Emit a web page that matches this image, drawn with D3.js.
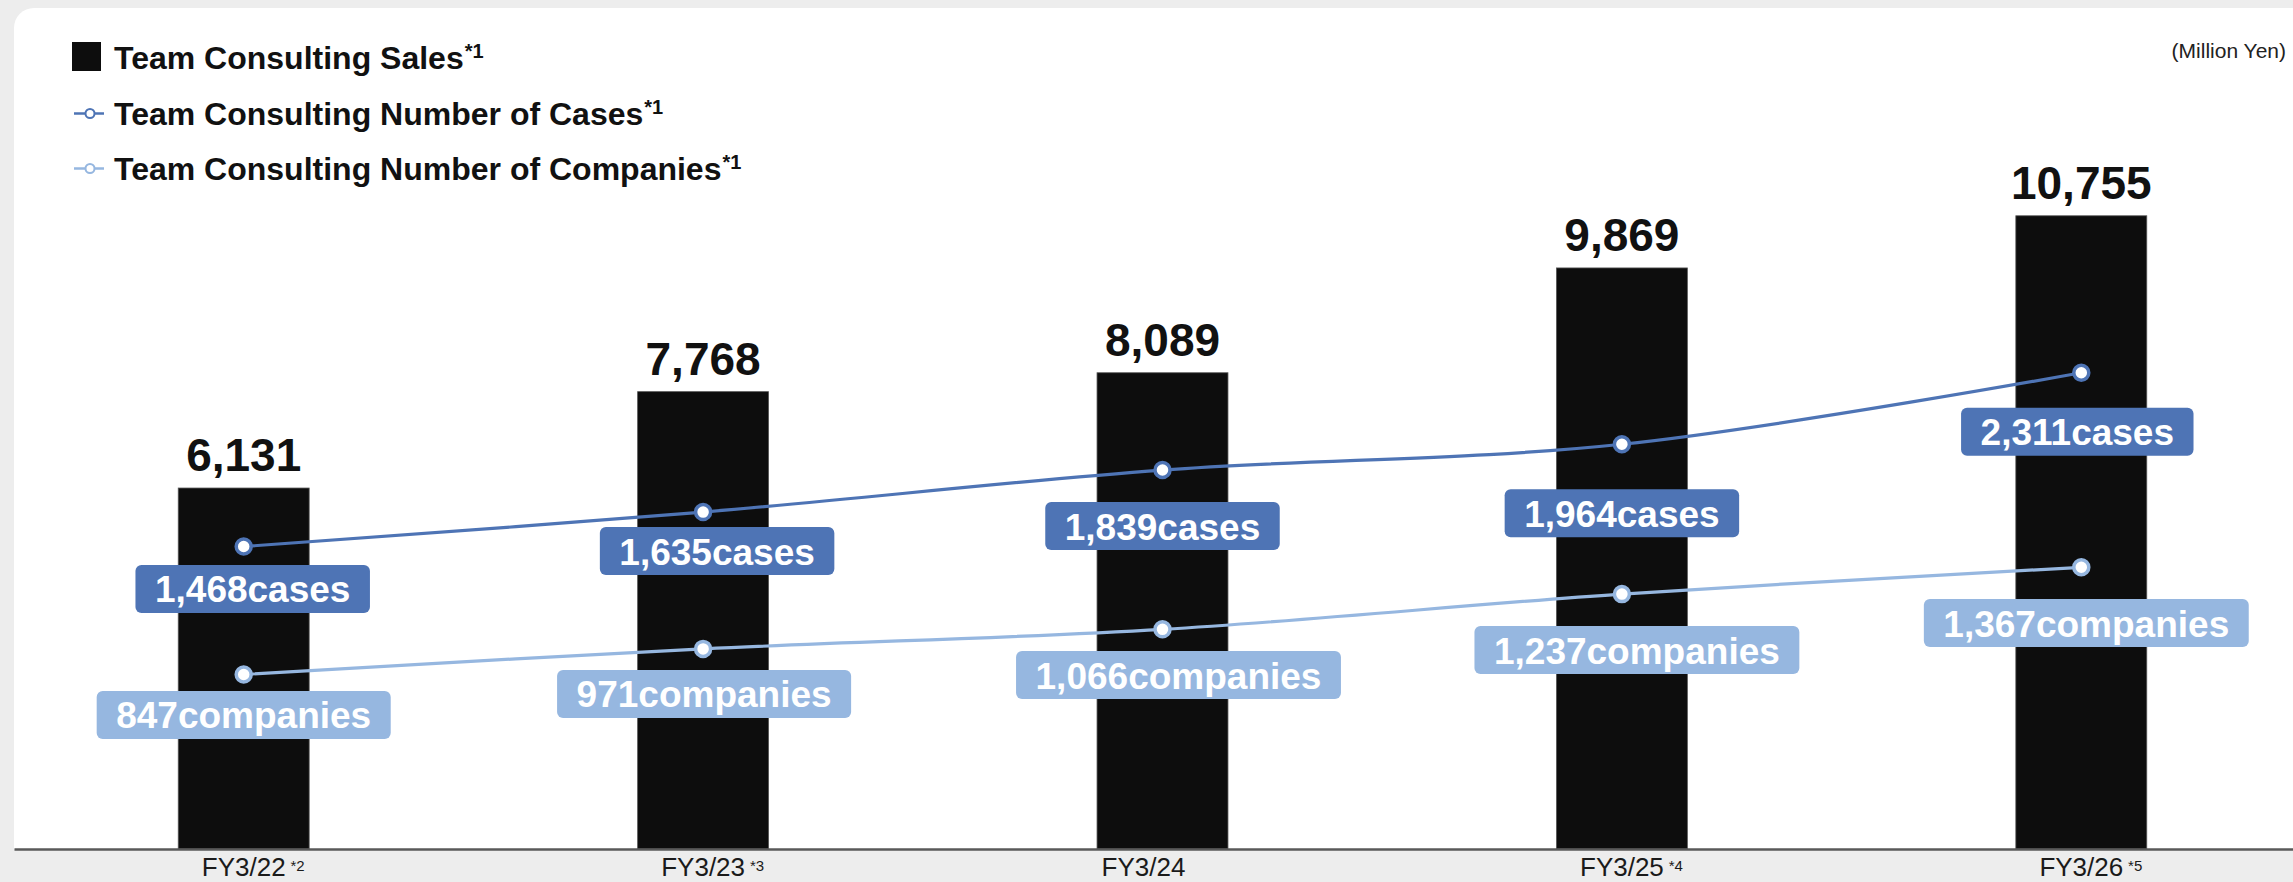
<!DOCTYPE html>
<html>
<head>
<meta charset="utf-8">
<script src="https://cdn.jsdelivr.net/npm/d3@7"></script>
<style>
  html, body { margin: 0; padding: 0; background: #ededed; }
  svg { display: block; font-family: "Liberation Sans", Arial, Helvetica, sans-serif; }
</style>
</head>
<body>
<script>
// Fiscal years and their footnote markers
const categories = ["FY3/22", "FY3/23", "FY3/24", "FY3/25", "FY3/26"];
const categoryNotes = ["*2", "*3", "", "*4", "*5"];

// Team consulting sales (million yen)
const sales = [6131, 7768, 8089, 9869, 10755];
// Team consulting number of cases
const cases = [1468, 1635, 1839, 1964, 2311];
// Team consulting number of companies
const companies = [847, 971, 1066, 1237, 1367];

// Legend entries
const legendLabels = [
  "Team Consulting Sales",
  "Team Consulting Number of Cases",
  "Team Consulting Number of Companies"
];

// Layout: badge offsets [dx of centre, dy of top] from each point
const caseTagShift = [[9, 18.5], [14, 15], [0, 32], [0, 45], [-4, 35]];
const companyTagShift = [[0, 16.5], [1, 21], [16, 21.7], [15, 32], [5, 31.7]];
const tickDx = [0, 0, -19, 0, 0];

const W = 2293, H = 882;
const baseY = 849;
const colBar = "#0d0d0d";
const colCases = "#4e74b5";
const colCompanies = "#96b7e0";

const svg = d3.select("body").append("svg")
  .attr("width", W).attr("height", H);

// backdrop and white panel
svg.append("rect").attr("width", W).attr("height", H).attr("fill", "#ededed");
svg.append("path")
  .attr("d", `M14,${baseY} V28 A20,20 0 0 1 34,8 H${W} V${baseY} Z`)
  .attr("fill", "#ffffff");

const x = d3.scaleBand().domain(categories)
  .range([14, 2311]).paddingInner(0.715).paddingOuter(0.3575);
const y = d3.scaleLinear().domain([0, 14420]).range([baseY, 0]);
const y2 = d3.scaleLinear().domain([0, 4120]).range([baseY, 0]);
const cx = c => x(c) + x.bandwidth() / 2;
const fmt = d3.format(",");

// bars
svg.append("g").selectAll("rect").data(sales).join("rect")
  .attr("x", (d, i) => x(categories[i]))
  .attr("y", d => y(d))
  .attr("width", x.bandwidth())
  .attr("height", d => baseY - y(d))
  .attr("fill", colBar)
  .attr("stroke", "#555").attr("stroke-width", 0.8);

// sales values
svg.append("g").selectAll("text").data(sales).join("text")
  .attr("x", (d, i) => cx(categories[i]))
  .attr("y", d => y(d) - 17)
  .attr("text-anchor", "middle")
  .attr("font-size", 46).attr("font-weight", "bold").attr("fill", "#111")
  .text(d => fmt(d));

// x axis
const axisG = svg.append("g").attr("transform", `translate(0,${baseY})`)
  .call(d3.axisBottom(x).tickSize(0).tickPadding(9));
axisG.select(".domain").attr("stroke", "#595959").attr("stroke-width", 2.5);
axisG.selectAll(".tick text")
  .attr("font-size", 26).attr("fill", "#1a1a1a")
  .attr("font-family", "\"Liberation Sans\", Arial, sans-serif")
  .attr("x", (d, i) => tickDx[i]);
axisG.selectAll(".tick").each(function (d, i) {
  const g = d3.select(this);
  const len = g.select("text").node().getComputedTextLength();
  if (categoryNotes[i]) {
    g.append("text")
      .attr("x", tickDx[i] + len / 2 + 12)
      .attr("y", 22)
      .attr("font-size", 15).attr("fill", "#1a1a1a")
      .attr("font-family", "\"Liberation Sans\", Arial, sans-serif")
      .text(categoryNotes[i]);
  }
});

// series lines
const line = d3.line()
  .x((d, i) => cx(categories[i]))
  .y(d => y2(d))
  .curve(d3.curveCatmullRom.alpha(0.5));

function drawSeries(values, color) {
  svg.append("path").datum(values)
    .attr("d", line).attr("fill", "none")
    .attr("stroke", color).attr("stroke-width", 3.2);
  svg.append("g").selectAll("circle").data(values).join("circle")
    .attr("cx", (d, i) => cx(categories[i]))
    .attr("cy", d => y2(d))
    .attr("r", 7.5)
    .attr("fill", "#fff").attr("stroke", color).attr("stroke-width", 3.5);
}
drawSeries(cases, colCases);
drawSeries(companies, colCompanies);

// value badges
function drawTags(values, unit, color, shifts) {
  values.forEach((v, i) => {
    const px = cx(categories[i]) + shifts[i][0];
    const top = y2(v) + shifts[i][1];
    const g = svg.append("g");
    const t = g.append("text")
      .attr("x", px).attr("y", top + 37.5)
      .attr("text-anchor", "middle")
      .attr("font-size", 37).attr("font-weight", "bold").attr("fill", "#fff")
      .text(fmt(v) + unit);
    const w = t.node().getComputedTextLength() + 39;
    g.insert("rect", "text")
      .attr("x", px - w / 2).attr("y", top)
      .attr("width", w).attr("height", 48)
      .attr("rx", 6).attr("fill", color);
  });
}
drawTags(cases, "cases", colCases, caseTagShift);
drawTags(companies, "companies", colCompanies, companyTagShift);

// legend
const leg = svg.append("g");
leg.append("rect").attr("x", 72).attr("y", 42).attr("width", 29).attr("height", 29).attr("fill", colBar);
[colCases, colCompanies].forEach((c, k) => {
  const ly = 113.5 + k * 55;
  leg.append("line").attr("x1", 74).attr("x2", 104).attr("y1", ly).attr("y2", ly)
    .attr("stroke", c).attr("stroke-width", 2.5);
  leg.append("circle").attr("cx", 90).attr("cy", ly).attr("r", 4.5)
    .attr("fill", "#fff").attr("stroke", c).attr("stroke-width", 2);
});
legendLabels.forEach((s, k) => {
  const t = leg.append("text")
    .attr("x", 114).attr("y", 69 + k * 55.5)
    .attr("font-size", 32).attr("font-weight", "bold").attr("fill", "#111");
  t.append("tspan").text(s);
  t.append("tspan").attr("dx", 1).attr("dy", -11).attr("font-size", 20).text("*1");
});

// unit note
svg.append("text")
  .attr("x", 2286).attr("y", 58)
  .attr("text-anchor", "end")
  .attr("font-size", 21).attr("fill", "#222")
  .text("(Million Yen)");
</script>
</body>
</html>
